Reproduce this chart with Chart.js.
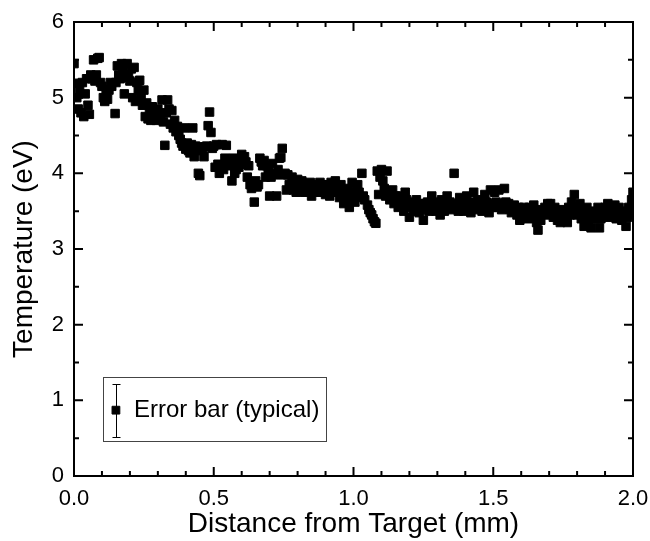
<!DOCTYPE html>
<html>
<head>
<meta charset="utf-8">
<script src="https://cdn.jsdelivr.net/npm/chart.js@4.4.0/dist/chart.umd.min.js"></script>
<style>
  html, body { margin: 0; padding: 0; background: #fff; }
</style>
</head>
<body>
<canvas id="chart" width="650" height="541"></canvas>
<script>
// Electron temperature vs distance
const distance = [
  0.000, 0.005, 0.010, 0.015, 0.020, 0.025, 0.030, 0.035, 0.040, 0.045, 0.050, 0.055, 0.060, 0.065, 0.070, 0.075, 0.080, 0.085, 0.090, 0.095, 0.100,
  0.105, 0.110, 0.115, 0.120, 0.125, 0.130, 0.135, 0.147, 0.150, 0.155, 0.160, 0.165, 0.170, 0.175, 0.180, 0.185, 0.190, 0.195, 0.200,
  0.205, 0.210, 0.215, 0.220, 0.225, 0.230, 0.235, 0.240, 0.245, 0.250, 0.255, 0.260, 0.265, 0.270, 0.275, 0.280, 0.285, 0.290, 0.295, 0.300,
  0.305, 0.310, 0.315, 0.320, 0.325, 0.330, 0.335, 0.340, 0.345, 0.350, 0.355, 0.360, 0.365, 0.370, 0.375, 0.380, 0.385, 0.390, 0.395, 0.400,
  0.405, 0.410, 0.415, 0.420, 0.425, 0.430, 0.435, 0.440, 0.445, 0.450, 0.455, 0.460, 0.465, 0.470, 0.475, 0.480, 0.485, 0.490, 0.495, 0.500,
  0.505, 0.510, 0.515, 0.520, 0.525, 0.530, 0.535, 0.540, 0.545, 0.550, 0.555, 0.560, 0.565, 0.570, 0.575, 0.580, 0.585, 0.590, 0.595, 0.600,
  0.605, 0.610, 0.615, 0.620, 0.625, 0.630, 0.635, 0.640, 0.645, 0.650, 0.655, 0.660, 0.665, 0.670, 0.675, 0.680, 0.685, 0.690, 0.695, 0.700,
  0.705, 0.710, 0.715, 0.720, 0.725, 0.730, 0.735, 0.740, 0.745, 0.750, 0.755, 0.760, 0.765, 0.770, 0.775, 0.780, 0.785, 0.790, 0.795, 0.800,
  0.805, 0.810, 0.815, 0.820, 0.825, 0.830, 0.835, 0.840, 0.845, 0.850, 0.855, 0.860, 0.865, 0.870, 0.875, 0.880, 0.885, 0.890, 0.895, 0.900,
  0.905, 0.910, 0.915, 0.920, 0.925, 0.930, 0.935, 0.940, 0.945, 0.950, 0.955, 0.960, 0.965, 0.970, 0.975, 0.980, 0.985, 0.990, 0.995, 1.000,
  1.005, 1.010, 1.015, 1.020, 1.025, 1.030, 1.035, 1.040, 1.050, 1.055, 1.060, 1.065, 1.070, 1.075, 1.080, 1.085, 1.090, 1.095, 1.100,
  1.105, 1.110, 1.115, 1.120, 1.125, 1.130, 1.135, 1.140, 1.145, 1.150, 1.155, 1.160, 1.165, 1.170, 1.175, 1.180, 1.185, 1.190, 1.195, 1.200,
  1.205, 1.210, 1.215, 1.220, 1.225, 1.230, 1.235, 1.240, 1.245, 1.250, 1.255, 1.260, 1.265, 1.270, 1.275, 1.280, 1.285, 1.290, 1.295, 1.300,
  1.305, 1.310, 1.315, 1.320, 1.325, 1.330, 1.335, 1.340, 1.345, 1.350, 1.360, 1.365, 1.370, 1.375, 1.380, 1.385, 1.390, 1.395, 1.400,
  1.405, 1.410, 1.415, 1.420, 1.425, 1.430, 1.435, 1.440, 1.445, 1.450, 1.455, 1.460, 1.465, 1.470, 1.475, 1.480, 1.485, 1.490, 1.495, 1.500,
  1.505, 1.510, 1.515, 1.520, 1.525, 1.530, 1.535, 1.540, 1.545, 1.550, 1.555, 1.560, 1.565, 1.570, 1.575, 1.580, 1.585, 1.590, 1.595, 1.600,
  1.605, 1.610, 1.615, 1.620, 1.625, 1.630, 1.635, 1.640, 1.645, 1.650, 1.655, 1.660, 1.665, 1.670, 1.675, 1.680, 1.685, 1.690, 1.695, 1.700,
  1.705, 1.710, 1.715, 1.720, 1.725, 1.730, 1.735, 1.740, 1.745, 1.750, 1.755, 1.760, 1.765, 1.770, 1.775, 1.780, 1.785, 1.790, 1.795, 1.800,
  1.805, 1.810, 1.815, 1.820, 1.825, 1.830, 1.835, 1.840, 1.845, 1.850, 1.855, 1.860, 1.865, 1.870, 1.875, 1.880, 1.885, 1.890, 1.895, 1.900,
  1.905, 1.910, 1.915, 1.920, 1.925, 1.930, 1.935, 1.940, 1.945, 1.950, 1.955, 1.960, 1.965, 1.970, 1.975, 1.980, 1.985, 1.990, 1.995, 2.000, 2.000
];
const temperature = [
  5.45, 5.19, 5.00, 4.85, 5.10, 4.80, 5.20, 4.75, 5.05, 5.25, 4.90, 4.78, 5.30, 5.25, 5.50, 5.22, 5.30, 5.52, 5.53, 5.20, 5.15,
  5.00, 4.95, 5.05, 4.98, 5.10, 5.20, 5.15, 4.79, 5.20, 5.42, 5.30, 5.25, 5.45, 5.35, 5.05, 5.27, 5.45, 5.30, 5.22,
  5.38, 5.00, 5.40, 4.95, 5.20, 5.10, 5.23, 5.00, 4.90, 5.10, 4.75, 4.93, 4.72, 4.85, 4.70, 4.88, 4.75, 4.80, 4.70, 4.85,
  4.78, 4.72, 4.97, 4.68, 4.37, 4.80, 4.97, 4.85, 4.65, 4.83, 4.60, 4.70, 4.55, 4.62, 4.50, 4.45, 4.40, 4.36, 4.60, 4.32,
  4.40, 4.30, 4.27, 4.38, 4.60, 4.22, 4.36, 4.30, 4.00, 3.97, 4.35, 4.33, 4.22, 4.35, 4.36, 4.63, 4.81, 4.54, 4.33, 4.36,
  4.08, 4.38, 4.12, 4.00, 4.10, 4.38, 4.05, 4.20, 4.37, 4.15, 4.10, 4.13, 3.90, 4.20, 4.00, 4.05, 4.18, 4.08, 4.12, 4.25,
  4.18, 4.22, 4.15, 3.95, 4.10, 3.85, 3.80, 3.87, 3.62, 3.90, 3.82, 3.85, 4.20, 4.15, 4.10, 4.17, 3.95, 4.10, 4.05, 3.70,
  3.95, 4.13, 4.00, 3.98, 3.70, 4.05, 4.20, 4.21, 4.33, 3.98, 4.00, 3.78, 3.98, 3.85, 3.80, 3.95, 3.78, 3.82, 3.75, 3.92,
  3.85, 3.78, 3.90, 3.80, 3.75, 3.85, 3.82, 3.78, 3.88, 3.70, 3.80, 3.85, 3.75, 3.82, 3.78, 3.88, 3.75, 3.80, 3.85, 3.72,
  3.85, 3.80, 3.70, 3.88, 3.78, 3.82, 3.90, 3.75, 3.80, 3.68, 3.85, 3.78, 3.60, 3.72, 3.65, 3.80, 3.55, 3.75, 3.88, 3.70,
  3.62, 3.80, 3.85, 3.75, 3.68, 4.00, 3.70, 3.65, 3.58, 3.52, 3.48, 3.45, 3.40, 3.36, 3.34, 4.03, 3.72, 3.95, 4.05,
  3.90, 3.80, 3.70, 4.03, 3.75, 3.65, 3.72, 3.78, 3.60, 3.70, 3.65, 3.55, 3.62, 3.70, 3.58, 3.50, 3.75, 3.65, 3.60, 3.42,
  3.55, 3.62, 3.50, 3.58, 3.65, 3.55, 3.48, 3.60, 3.52, 3.38, 3.60, 3.55, 3.62, 3.50, 3.58, 3.70, 3.55, 3.60, 3.50, 3.62,
  3.55, 3.45, 3.65, 3.60, 3.50, 3.58, 3.70, 3.55, 3.62, 3.52, 4.00, 3.60, 3.55, 3.50, 3.68, 3.58, 3.62, 3.50, 3.60,
  3.70, 3.55, 3.62, 3.48, 3.58, 3.75, 3.60, 3.52, 3.65, 3.55, 3.60, 3.50, 3.58, 3.72, 3.62, 3.55, 3.48, 3.78, 3.60, 3.55,
  3.75, 3.62, 3.55, 3.78, 3.60, 3.52, 3.58, 3.80, 3.62, 3.55, 3.60, 3.52, 3.48, 3.55, 3.58, 3.50, 3.45, 3.55, 3.38, 3.48,
  3.52, 3.55, 3.45, 3.50, 3.40, 3.55, 3.48, 3.42, 3.58, 3.50, 3.35, 3.25, 3.45, 3.38, 3.52, 3.48, 3.55, 3.50, 3.60, 3.45,
  3.60, 3.50, 3.42, 3.55, 3.45, 3.38, 3.50, 3.35, 3.45, 3.52, 3.40, 3.48, 3.35, 3.55, 3.45, 3.62, 3.50, 3.72, 3.55, 3.45,
  3.55, 3.60, 3.40, 3.50, 3.30, 3.45, 3.55, 3.38, 3.48, 3.28, 3.42, 3.50, 3.40, 3.45, 3.55, 3.28, 3.40, 3.50, 3.45, 3.55,
  3.48, 3.60, 3.42, 3.55, 3.50, 3.45, 3.58, 3.40, 3.50, 3.55, 3.45, 3.38, 3.50, 3.45, 3.30, 3.42, 3.55, 3.48, 3.65, 3.75, 3.45
];

// typical error bar shown in the legend
const errorBarX = [0.15];
const errorBarY = [0.87];
const errorBarHalf = [0.35];
const legendText = 'Error bar (typical)';

const xTicks = [0, 0.5, 1.0, 1.5, 2.0];
const xMinorTicks = [0.1, 0.2, 0.3, 0.4, 0.6, 0.7, 0.8, 0.9, 1.1, 1.2, 1.3, 1.4, 1.6, 1.7, 1.8, 1.9];
const yTicks = [0, 1, 2, 3, 4, 5, 6];
const yMinorTicks = [0.5, 1.5, 2.5, 3.5, 4.5, 5.5];

const FONT = '"Liberation Sans", Arial, sans-serif';

const axesFrame = {
    id: 'axesFrame',
    afterDatasetsDraw(chart) {
        const { ctx, chartArea: a, scales: { x, y } } = chart;
        ctx.save();
        ctx.strokeStyle = '#000';

        // error bar through the legend marker
        ctx.lineWidth = 1;
        errorBarX.forEach((v, i) => {
            const px = Math.round(x.getPixelForValue(v)) + 0.5;
            const top = Math.round(y.getPixelForValue(errorBarY[i] + errorBarHalf[i])) + 0.5;
            const bot = Math.round(y.getPixelForValue(errorBarY[i] - errorBarHalf[i])) + 0.5;
            ctx.beginPath();
            ctx.moveTo(px, top); ctx.lineTo(px, bot);
            ctx.moveTo(px - 4, top); ctx.lineTo(px + 4, top);
            ctx.moveTo(px - 4, bot); ctx.lineTo(px + 4, bot);
            ctx.stroke();
        });

        // legend box
        ctx.strokeStyle = '#444';
        ctx.strokeRect(103.5, 377.5, 223, 64);
        ctx.fillStyle = '#000';
        ctx.font = '24px ' + FONT;
        ctx.textBaseline = 'middle';
        ctx.fillText(legendText, 134, 410);

        // frame
        ctx.strokeStyle = '#000';
        ctx.lineWidth = 2;
        ctx.strokeRect(a.left, a.top, a.right - a.left, a.bottom - a.top);

        // inward ticks on all four sides
        ctx.beginPath();
        const xt = (vals, len) => vals.forEach(v => {
            const px = x.getPixelForValue(v);
            ctx.moveTo(px, a.bottom); ctx.lineTo(px, a.bottom - len);
            ctx.moveTo(px, a.top); ctx.lineTo(px, a.top + len);
        });
        const yt = (vals, len) => vals.forEach(v => {
            const py = y.getPixelForValue(v);
            ctx.moveTo(a.left, py); ctx.lineTo(a.left + len, py);
            ctx.moveTo(a.right, py); ctx.lineTo(a.right - len, py);
        });
        xt(xTicks, 9); xt(xMinorTicks, 5);
        yt(yTicks, 9); yt(yMinorTicks, 5);
        ctx.stroke();
        ctx.restore();
    }
};

new Chart(document.getElementById('chart'), {
    type: 'scatter',
    data: {
        datasets: [
            {
                data: distance.map((d, i) => ({ x: d, y: temperature[i] })),
                pointStyle: 'rect',
                pointRadius: 6,
                borderWidth: 1,
                borderColor: '#000',
                backgroundColor: '#000',
                clip: 0,
            },
            {
                data: errorBarX.map((d, i) => ({ x: d, y: errorBarY[i] })),
                pointStyle: 'rect',
                pointRadius: 5.5,
                borderWidth: 1,
                borderColor: '#000',
                backgroundColor: '#000',
            }
        ]
    },
    options: {
        responsive: false,
        animation: false,
        events: [],
        layout: { padding: { top: 22, right: 17, left: 0, bottom: 0 } },
        scales: {
            x: {
                type: 'linear',
                min: 0,
                max: 2,
                afterBuildTicks: s => { s.ticks = xTicks.map(v => ({ value: v })); },
                afterFit: s => { s.height = 65; s.paddingLeft = 0; s.paddingRight = 0; },
                grid: { display: false, drawTicks: false },
                border: { display: false },
                ticks: {
                    color: '#000',
                    font: { family: FONT, size: 22 },
                    padding: 10,
                    maxRotation: 0,
                    callback: v => v.toFixed(1),
                },
                title: {
                    display: true,
                    text: 'Distance from Target (mm)',
                    color: '#000',
                    font: { family: FONT, size: 28 },
                    padding: { top: 0, bottom: 0 },
                }
            },
            y: {
                type: 'linear',
                min: 0,
                max: 6,
                afterBuildTicks: s => { s.ticks = yTicks.map(v => ({ value: v })); },
                afterFit: s => { s.width = 74; s.paddingTop = 0; s.paddingBottom = 0; },
                grid: { display: false, drawTicks: false },
                border: { display: false },
                ticks: {
                    color: '#000',
                    font: { family: FONT, size: 22 },
                    padding: 10,
                    callback: v => String(v),
                },
                title: {
                    display: true,
                    text: 'Temperature (eV)',
                    color: '#000',
                    font: { family: FONT, size: 28 },
                    padding: { top: 7, bottom: 0 },
                }
            }
        },
        plugins: {
            legend: { display: false },
            tooltip: { enabled: false },
        }
    },
    plugins: [axesFrame]
});
</script>
</body>
</html>
